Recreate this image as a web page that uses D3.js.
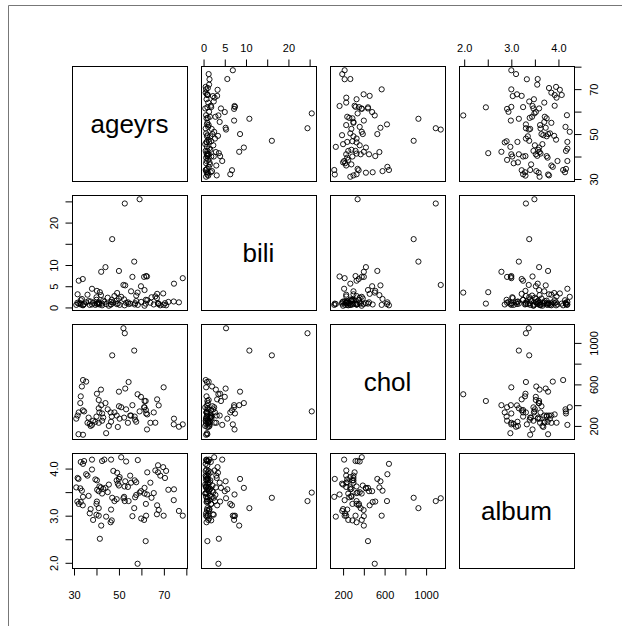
<!DOCTYPE html>
<html>
<head>
<meta charset="utf-8">
<script src="https://cdn.jsdelivr.net/npm/d3@7/dist/d3.min.js"></script>
<style>
  body { margin: 0; background: #fff; }
  svg { display: block; font-family: "Liberation Sans", Arial, Helvetica, sans-serif; }
</style>
</head>
<body>
<svg id="chart" width="622" height="626"></svg>
<script>
// variable names, shown on the diagonal
var varNames = ["ageyrs", "bili", "chol", "album"]

// one entry per patient (same order in every array), null = missing
var ageyrs = [58.3, 61.9, 41.5, 42.1, 38.5, 46.3, 46.8, 61.2, 59.9, 62.1,
              78.4, 76.7, 69.9, 66.9, 67.7, 67.0, 74.4, 74.5, 68.4, 67.4,
              66.2, 69.7, 67.4, 62.6, 62.5, 61.4, 59.2, 61.4, 57.2, 57.7,
              56.8, 57.0, 57.7, 58.4, 55.4, 52.6, 54.3, 52.0, 52.3, 54.0,
              52.5, 52.8, 50.0, 50.0, 49.5, 49.0, 50.3, 49.2, 53.2, 46.5,
              47.0, 44.0, 46.5, 48.0, 49.0, 41.0, 40.0, 37.0, 37.4, 41.0,
              40.0, 40.2, 42.5, 41.0, 40.3, 42.0, 41.3, 43.0, 40.2, 39.5,
              36.0, 35.4, 34.0, 33.0, 34.5, 38.0, 42.5, 43.5, 33.9, 32.1,
              33.0, 31.5, 33.5, 31.0, 32.8, 32.0, 31.6, 59.8, 62.0, 56.0,
              45.0, 45.5, 47.5, 36.5, 38.0, 64.0, 64.5, 70.5, 72.0, 71.0,
              34.0, 55.0, 51.0, 44.3, 65.5]

var bili = [3.5, 0.9, 3.6, 8.4, 1.1, 0.7, 1.8, 7.2, 1.3, 7.4,
            6.9, 1.2, 0.6, 2.2, 0.8, 3.2, 1.4, 5.6, 0.5, 1.0,
            2.6, 3.3, 0.9, 1.7, 7.3, 0.4, 25.5, 4.1, 1.0, 2.8,
            10.8, 0.7, 1.5, 0.6, 3.8, 24.5, 0.8, 5.3, 1.9, 1.2,
            0.5, 5.2, 8.6, 2.1, 0.9, 1.6, 0.6, 3.4, 1.1, 0.7,
            16.1, 9.5, 1.3, 2.7, 0.8, 1.0, 2.4, 0.6, 1.4, 0.9,
            1.8, 3.9, 0.5, 1.2, 0.8, 2.9, 0.7, 1.6, 1.0, 0.6,
            3.0, 1.2, 0.5, 1.7, 0.8, 4.4, 0.9, 1.3, 6.7, 6.3,
            0.7, 1.1, 2.0, 0.6, 1.0, 0.9, 3.1, 5.0, 1.8, 7.2,
            2.3, 0.4, 1.2, 1.5, 0.7, 1.1, 2.4, 1.0, 1.3, 0.5,
            0.6, 0.9, 2.5, 0.8, 0.7]

var chol = [505, 440, null, 400, 250, 330, 290, 380, null, 320,
            215, 192, 572, null, 398, 456, 215, 270, null, null,
            231, null, null, 311, 166, 379, 340, 440, 260, null,
            926, 290, 240, null, 300, 1093, 623, 1141, 280, 230,
            null, 560, 530, 390, 190, 300, 270, null, 360, null,
            880, 420, 240, 330, null, 230, null, 220, 200, 370,
            290, 510, 250, 450, null, 550, 330, 280, null, 240,
            230, 627, 642, null, 340, 210, 320, null, 350, 330,
            485, null, 580, 270, 420, 120, 300, 480, 353, 400,
            360, 200, null, 280, null, 230, null, null, null, null,
            115, 300, 380, 130, 330]

var album = [1.98, 2.46, 2.51, 2.79, 2.91, 2.86, 2.90, 2.91, 2.94, 3.00,
             3.00, 3.10, 3.00, 3.03, 3.12, 3.22, 3.33, 3.56, 3.85, 3.92,
             3.96, 4.03, 4.07, 3.92, 3.45, 3.47, 3.49, 3.59, 3.39, 3.44,
             3.16, 3.75, 3.71, 4.18, 3.70, 3.31, 3.31, 3.37, 3.40, 3.61,
             3.62, 3.73, 3.78, 3.64, 3.68, 3.75, 3.82, 3.91, 4.15, 4.19,
             3.38, 3.59, 3.13, 3.31, 3.35, 3.00, 3.02, 3.05, 3.14, 3.16,
             3.25, 3.30, 3.47, 3.52, 3.55, 3.60, 3.62, 3.57, 3.75, 3.77,
             3.85, 3.88, 4.10, 4.14, 4.16, 4.19, 4.16, 4.19, 3.22, 3.25,
             3.29, 3.30, 3.53, 3.60, 3.58, 3.78, 3.80, 3.52, 3.25, 2.99,
             3.50, 3.66, 3.95, 3.42, 3.98, 3.70, 3.38, 3.80, 3.55, 3.95,
             3.40, 3.85, 4.24, 2.98, 3.48]

// ticks (all drawn) and the labels R actually prints
var ageTicks = [30, 40, 50, 60, 70, 80],  ageLabels = [30, 50, 70]
var biliTicks = [0, 5, 10, 15, 20, 25],   biliLabels = [0, 5, 10, 20]
var cholTicks = [200, 400, 600, 800, 1000], cholLabels = [200, 600, 1000]
var albumTicks = [2.0, 2.5, 3.0, 3.5, 4.0], albumLabels = [2.0, 3.0, 4.0]

var columns = [ageyrs, bili, chol, album]
var ticks = [ageTicks, biliTicks, cholTicks, albumTicks]
var labels = [ageLabels, biliLabels, cholLabels, albumLabels]
var fmt = [d3.format("d"), d3.format("d"), d3.format("d"), d3.format(".1f")]

var dims = {
    left: 72,
    top: 66,
    size: 115,
    gap: 14,
    tick: 7,
    labelFont: 11,
    diagFont: 26
}

var svg = d3.select("#chart")

// frame lines of the original picture (top and left only)
svg.append("line").attr("x1", 8.5).attr("x2", 622).attr("y1", 5.5).attr("y2", 5.5)
    .attr("stroke", "#777").attr("stroke-width", 1)
svg.append("line").attr("x1", 8.5).attr("x2", 8.5).attr("y1", 5.5).attr("y2", 626)
    .attr("stroke", "#777").attr("stroke-width", 1)

var pos = k => k * (dims.size + dims.gap)

// one x scale per column and one y scale per row, range padded 4% like R
function padded(vals) {
    var ext = d3.extent(vals.filter(v => v != null))
    var r = ext[1] - ext[0]
    return [ext[0] - 0.04 * r, ext[1] + 0.04 * r]
}
var xScales = columns.map((vals, k) => d3.scaleLinear()
    .domain(padded(vals))
    .range([dims.left + pos(k), dims.left + pos(k) + dims.size]))
var yScales = columns.map((vals, k) => d3.scaleLinear()
    .domain(padded(vals))
    .range([dims.top + pos(k) + dims.size, dims.top + pos(k)]))

var n = ageyrs.length
var idx = d3.range(n)

for (var i = 0; i < 4; i++) {
    for (var j = 0; j < 4; j++) {
        var x0 = dims.left + pos(j), y0 = dims.top + pos(i)
        var g = svg.append("g")

        if (i == j) {
            g.append("text")
                .attr("x", x0 + dims.size / 2)
                .attr("y", y0 + dims.size / 2)
                .attr("dy", "0.35em")
                .attr("text-anchor", "middle")
                .style("font-size", dims.diagFont + "px")
                .text(varNames[i])
        } else {
            var xs = columns[j], ys = columns[i]
            g.selectAll("circle")
                .data(idx.filter(k => xs[k] != null && ys[k] != null))
                .enter()
                .append("circle")
                .attr("cx", k => xScales[j](xs[k]))
                .attr("cy", k => yScales[i](ys[k]))
                .attr("r", 2.6)
                .attr("fill", "none")
                .attr("stroke", "#000")
                .attr("stroke-width", 0.9)
        }

        g.append("rect")
            .attr("x", x0 + 0.5).attr("y", y0 + 0.5)
            .attr("width", dims.size).attr("height", dims.size)
            .attr("fill", "none").attr("stroke", "#000").attr("stroke-width", 1)
    }
}

// axes, alternating like pairs(): top/bottom for columns, left/right for rows
function drawAxis(k, side) {
    var tv = ticks[k], lab = labels[k], f = fmt[k]
    var tickFmt = v => lab.indexOf(v) >= 0 ? f(v) : ""
    var gen, tr
    if (side == "top") { gen = d3.axisTop(xScales[k]); tr = `translate(0, ${dims.top + 0.5})` }
    if (side == "bottom") { gen = d3.axisBottom(xScales[k]); tr = `translate(0, ${dims.top + pos(3) + dims.size + 0.5})` }
    if (side == "left") { gen = d3.axisLeft(yScales[k]); tr = `translate(${dims.left + 0.5}, 0)` }
    if (side == "right") { gen = d3.axisRight(yScales[k]); tr = `translate(${dims.left + pos(3) + dims.size + 0.5}, 0)` }
    gen.tickValues(tv).tickFormat(tickFmt).tickSizeInner(dims.tick).tickSizeOuter(0).tickPadding(0)

    var ax = svg.append("g").attr("transform", tr).call(gen)
    ax.select(".domain").remove()
    ax.selectAll("line").attr("stroke", "#000")

    // axis line runs from first to last tick only
    var sc = (side == "top" || side == "bottom") ? xScales[k] : yScales[k]
    var a = sc(tv[0]), b = sc(tv[tv.length - 1])
    if (side == "top" || side == "bottom") {
        ax.append("line").attr("x1", a).attr("x2", b).attr("y1", 0).attr("y2", 0).attr("stroke", "#000")
    } else {
        ax.append("line").attr("y1", a).attr("y2", b).attr("x1", 0).attr("x2", 0).attr("stroke", "#000")
    }

    var txt = ax.selectAll("text")
        .attr("fill", "#000")
        .style("font-size", dims.labelFont + "px")
        .style("font-family", "Liberation Sans, Arial, sans-serif")
        .attr("text-anchor", "middle")
    if (side == "top") txt.attr("y", -15).attr("dy", "0")
    if (side == "bottom") txt.attr("y", 23).attr("dy", "0.71em")
    if (side == "left") txt.attr("x", 0).attr("dy", "0").attr("transform", "rotate(-90)").attr("y", -15)
    if (side == "right") txt.attr("x", 0).attr("dy", "0").attr("transform", "rotate(-90)").attr("y", 23)
}

drawAxis(1, "top")
drawAxis(3, "top")
drawAxis(0, "bottom")
drawAxis(2, "bottom")
drawAxis(1, "left")
drawAxis(3, "left")
drawAxis(0, "right")
drawAxis(2, "right")
</script>
</body>
</html>
